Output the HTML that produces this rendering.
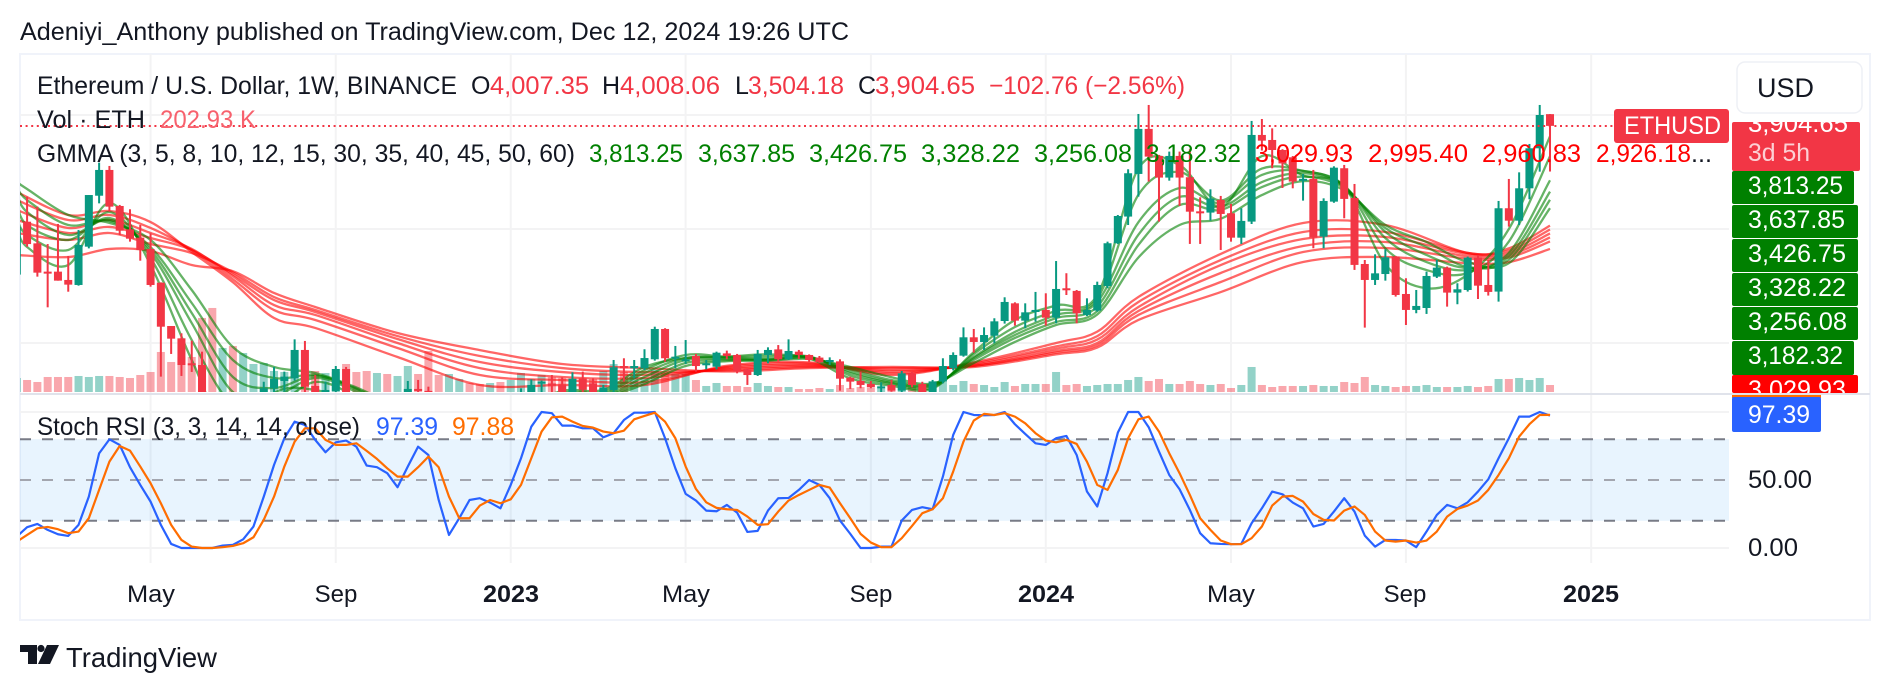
<!DOCTYPE html>
<html lang="en">
<head>
<meta charset="utf-8">
<title>ETHUSD weekly chart</title>
<style>
html,body{margin:0;padding:0;background:#fff;}
svg{display:block;}
text{font-family:"Liberation Sans",sans-serif;font-size:25px;fill:#131722;}
.r{fill:#f23645;}
.g{fill:#008000;}
.rr{fill:#ff0000;}
.w{fill:#ffffff;}
.axis-x{text-anchor:middle;font-size:24px;}
</style>
</head>
<body>
<svg id="chart" xmlns="http://www.w3.org/2000/svg" width="1888" height="690" viewBox="0 0 1888 690">
<defs>
<clipPath id="main-clip"><rect x="20" y="54" width="1709" height="338"/></clipPath>
<clipPath id="stoch-clip"><rect x="20" y="396" width="1709" height="167"/></clipPath>
<clipPath id="top-label-clip"><rect x="1732" y="122" width="128" height="49"/></clipPath>
<clipPath id="bottom-label-clip"><rect x="1732" y="375" width="128" height="18"/></clipPath>
</defs>
<rect x="0" y="0" width="1888" height="690" fill="#ffffff"/>
<rect x="20" y="54" width="1850" height="566" fill="none" stroke="#f0f3fa" stroke-width="2"/>
<g id="grid"></g>
<g id="stoch-band"></g>
<g id="main-marks" clip-path="url(#main-clip)"></g>
<line x1="20" x2="1614" y1="126" y2="126" stroke="#f23645" stroke-width="2" stroke-dasharray="2 3.6"/>
<rect x="20" y="393" width="1850" height="2" fill="#e0e3eb"/>
<g id="stoch-marks" clip-path="url(#stoch-clip)"></g>

<text x="20" y="40" textLength="829" lengthAdjust="spacingAndGlyphs">Adeniyi_Anthony published on TradingView.com, Dec 12, 2024 19:26 UTC</text>

<text x="37" y="94" textLength="420" lengthAdjust="spacingAndGlyphs">Ethereum / U.S. Dollar, 1W, BINANCE</text>
<text x="471" y="94">O</text>
<text class="r" x="490" y="94" textLength="99" lengthAdjust="spacingAndGlyphs">4,007.35</text>
<text x="602" y="94">H</text>
<text class="r" x="620" y="94" textLength="100" lengthAdjust="spacingAndGlyphs">4,008.06</text>
<text x="735" y="94">L</text>
<text class="r" x="748" y="94" textLength="96" lengthAdjust="spacingAndGlyphs">3,504.18</text>
<text x="858" y="94">C</text>
<text class="r" x="875" y="94" textLength="100" lengthAdjust="spacingAndGlyphs">3,904.65</text>
<text class="r" x="989" y="94" textLength="196" lengthAdjust="spacingAndGlyphs">−102.76 (−2.56%)</text>

<text x="37" y="128" textLength="108" lengthAdjust="spacingAndGlyphs">Vol · ETH</text>
<text x="160" y="128" textLength="96" lengthAdjust="spacingAndGlyphs" style="fill:#f7616d">202.93 K</text>

<text x="37" y="162" textLength="538" lengthAdjust="spacingAndGlyphs">GMMA (3, 5, 8, 10, 12, 15, 30, 35, 40, 45, 50, 60)</text>
<text class="g" x="589" y="162" textLength="94" lengthAdjust="spacingAndGlyphs">3,813.25</text>
<text class="g" x="698" y="162" textLength="97" lengthAdjust="spacingAndGlyphs">3,637.85</text>
<text class="g" x="809" y="162" textLength="98" lengthAdjust="spacingAndGlyphs">3,426.75</text>
<text class="g" x="921" y="162" textLength="99" lengthAdjust="spacingAndGlyphs">3,328.22</text>
<text class="g" x="1034" y="162" textLength="98" lengthAdjust="spacingAndGlyphs">3,256.08</text>
<text class="g" x="1146" y="162" textLength="95" lengthAdjust="spacingAndGlyphs">3,182.32</text>
<text class="rr" x="1255" y="162" textLength="98" lengthAdjust="spacingAndGlyphs">3,029.93</text>
<text class="rr" x="1368" y="162" textLength="100" lengthAdjust="spacingAndGlyphs">2,995.40</text>
<text class="rr" x="1482" y="162" textLength="99" lengthAdjust="spacingAndGlyphs">2,960.83</text>
<text class="rr" x="1596" y="162" textLength="95" lengthAdjust="spacingAndGlyphs">2,926.18</text>
<text x="1691" y="162" textLength="21" lengthAdjust="spacingAndGlyphs">...</text>

<text x="37" y="435" textLength="323" lengthAdjust="spacingAndGlyphs">Stoch RSI (3, 3, 14, 14, close)</text>
<text x="376" y="435" textLength="62" lengthAdjust="spacingAndGlyphs" style="fill:#2962ff">97.39</text>
<text x="452" y="435" textLength="62" lengthAdjust="spacingAndGlyphs" style="fill:#ff6d00">97.88</text>

<text class="axis-x" x="151" y="602" textLength="48" lengthAdjust="spacingAndGlyphs">May</text>
<text class="axis-x" x="336" y="602">Sep</text>
<text class="axis-x" x="511" y="602" textLength="56" lengthAdjust="spacingAndGlyphs" style="font-weight:700">2023</text>
<text class="axis-x" x="686" y="602" textLength="48" lengthAdjust="spacingAndGlyphs">May</text>
<text class="axis-x" x="871" y="602">Sep</text>
<text class="axis-x" x="1046" y="602" textLength="56" lengthAdjust="spacingAndGlyphs" style="font-weight:700">2024</text>
<text class="axis-x" x="1231" y="602" textLength="48" lengthAdjust="spacingAndGlyphs">May</text>
<text class="axis-x" x="1405" y="602">Sep</text>
<text class="axis-x" x="1591" y="602" textLength="56" lengthAdjust="spacingAndGlyphs" style="font-weight:700">2025</text>

<rect x="1737" y="62" width="125" height="51" rx="8" fill="#ffffff" stroke="#eef0f5" stroke-width="1.5"/>
<text x="1757" y="97" textLength="57" lengthAdjust="spacingAndGlyphs" style="font-size:27px">USD</text>

<rect x="1614" y="109" width="115" height="34" rx="3" fill="#f23645"/>
<text class="w" x="1624" y="134" textLength="97" lengthAdjust="spacingAndGlyphs">ETHUSD</text>

<rect x="1732" y="122" width="128" height="49" rx="2" fill="#f23645"/>
<text class="w" x="1748" y="132" textLength="100" lengthAdjust="spacingAndGlyphs" clip-path="url(#top-label-clip)">3,904.65</text>
<text x="1748" y="161" textLength="62" lengthAdjust="spacingAndGlyphs" style="fill:#fcd0d4">3d 5h</text>

<rect x="1732" y="171" width="122" height="33" rx="2" fill="#008000"/>
<text class="w" x="1748" y="194" textLength="95" lengthAdjust="spacingAndGlyphs">3,813.25</text>
<rect x="1732" y="205" width="126" height="33" rx="2" fill="#008000"/>
<text class="w" x="1748" y="228" textLength="97" lengthAdjust="spacingAndGlyphs">3,637.85</text>
<rect x="1732" y="239" width="126" height="33" rx="2" fill="#008000"/>
<text class="w" x="1748" y="262" textLength="98" lengthAdjust="spacingAndGlyphs">3,426.75</text>
<rect x="1732" y="273" width="126" height="33" rx="2" fill="#008000"/>
<text class="w" x="1748" y="296" textLength="98" lengthAdjust="spacingAndGlyphs">3,328.22</text>
<rect x="1732" y="307" width="126" height="33" rx="2" fill="#008000"/>
<text class="w" x="1748" y="330" textLength="99" lengthAdjust="spacingAndGlyphs">3,256.08</text>
<rect x="1732" y="341" width="122" height="34" rx="2" fill="#008000"/>
<text class="w" x="1748" y="364" textLength="95" lengthAdjust="spacingAndGlyphs">3,182.32</text>
<rect x="1732" y="375" width="126" height="18" rx="2" fill="#ff0000"/>
<text class="w" x="1748" y="398" textLength="98" lengthAdjust="spacingAndGlyphs" clip-path="url(#bottom-label-clip)">3,029.93</text>

<rect x="1732" y="395" width="89" height="3" fill="#ff6d00"/>
<rect x="1732" y="397" width="89" height="35" rx="2" fill="#2962ff"/>
<text class="w" x="1748" y="423" textLength="62" lengthAdjust="spacingAndGlyphs">97.39</text>
<text x="1748" y="488" textLength="64" lengthAdjust="spacingAndGlyphs">50.00</text>
<text x="1748" y="556" textLength="50" lengthAdjust="spacingAndGlyphs">0.00</text>

<g>
<path d="M20 645H37V664H28V652H20Z" fill="#131722"/>
<circle cx="41" cy="648.5" r="3.6" fill="#131722"/>
<path d="M47 645H59L50 664H38Z" fill="#131722"/>
<text x="66" y="667" textLength="151" lengthAdjust="spacingAndGlyphs" style="font-size:28px">TradingView</text>
</g>
</svg>

<script>
// Weekly candles, Jan 31 2022 onward (bar index 0).
const opens = [2600,3064,2874,2626,2626,2553,2509,2845,3292,3518,3202,2997,2924,2825,2529,2149,2041,1822,1807,1450,1125,1140,1070,1215,1340,1603,1667,1690,1939,1623,1490,1578,1772,1470,1315,1290,1300,1275,1300,1597,1580,1255,1215,1205,1280,1260,1185,1218,1200,1320,1552,1646,1645,1632,1505,1684,1646,1560,1588,1798,1778,1778,1857,2123,1866,1845,1886,1807,1792,1909,1895,1769,1719,1895,1944,1857,1924,1895,1872,1834,1839,1696,1667,1641,1611,1632,1582,1734,1641,1565,1661,1778,1889,2050,2009,2064,2193,2348,2196,2272,2290,2222,2480,2457,2246,2284,2500,2875,3109,3483,3878,3641,3451,3641,3454,3155,3144,3255,3138,2924,3065,3825,3781,3693,3629,3428,3439,2933,3240,3533,3272,2693,2553,2605,2758,2430,2290,2307,2582,2661,2442,2465,2749,2509,2451,3182,3073,3357,3708,4007.35];
const highs = [3050,3284,3196,2868,3044,2763,2991,3298,3582,3553,3211,3173,3035,2962,2532,2149,2085,2020,1924,1530,1290,1280,1290,1460,1660,1790,1749,2032,2018,1719,1661,1798,1790,1500,1400,1360,1340,1310,1667,1676,1617,1280,1240,1310,1300,1350,1270,1240,1320,1602,1681,1670,1719,1699,1743,1749,1690,1632,1851,1866,1851,1945,2143,2130,1974,2026,1904,1851,1924,1933,1904,1778,1939,1962,1982,2032,1939,1900,1886,1874,1857,1705,1749,1667,1655,1676,1755,1749,1660,1676,1866,1918,2137,2123,2137,2217,2401,2357,2348,2448,2436,2719,2612,2465,2392,2538,2889,3123,3524,4009,4088,3650,3679,3679,3699,3278,3348,3290,3220,3182,3948,3965,3883,3700,3640,3483,3518,3269,3550,3562,3395,2728,2778,2822,2764,2568,2465,2626,2728,2670,2524,2758,2772,2728,3246,3439,3497,3746,4088,4008.06];
const lows = [2580,2845,2582,2313,2547,2450,2503,2830,3225,3152,2947,2889,2722,2494,1705,1904,1711,1746,1420,880,1040,1000,1050,1010,1330,1555,1573,1670,1559,1420,1420,1500,1450,1260,1220,1270,1260,1190,1270,1500,1075,1170,1080,1190,1215,1165,1150,1180,1190,1300,1510,1559,1559,1500,1460,1565,1370,1370,1555,1661,1690,1763,1845,1836,1778,1816,1749,1769,1769,1857,1734,1632,1711,1822,1836,1851,1860,1834,1822,1807,1582,1597,1603,1603,1559,1573,1567,1611,1540,1520,1646,1760,1880,1915,1939,1997,2170,2152,2129,2187,2152,2173,2421,2173,2237,2275,2480,2869,3035,3284,3416,3065,3424,3202,2869,2869,3073,2816,2889,2869,3044,3688,3533,3360,3357,3249,2831,2831,3230,3094,2641,2135,2509,2547,2407,2158,2261,2255,2570,2319,2340,2451,2386,2416,2363,3021,3035,3261,3503,3504.18];
const closes = [3018,2868,2617,2617,2547,2512,2860,3298,3518,3196,2985,2915,2816,2509,2143,2038,1807,1816,1450,1125,1140,1070,1215,1340,1603,1685,1705,1939,1617,1490,1588,1772,1470,1315,1310,1300,1275,1300,1597,1582,1255,1215,1218,1280,1260,1185,1218,1200,1320,1550,1632,1661,1630,1505,1684,1590,1565,1608,1787,1778,1798,1868,2123,1866,1880,1857,1798,1822,1915,1886,1749,1719,1904,1939,1857,1930,1895,1851,1831,1851,1687,1661,1632,1611,1620,1582,1734,1632,1553,1661,1798,1895,2050,2009,2070,2190,2360,2196,2269,2290,2222,2474,2465,2261,2290,2509,2875,3114,3489,3878,3635,3451,3641,3451,3152,3144,3267,3132,2924,3071,3825,3775,3693,3575,3416,3440,2924,3246,3538,3264,2685,2553,2611,2752,2421,2290,2325,2588,2661,2442,2471,2749,2503,2448,3182,3073,3357,3708,4000,3904.65];
// Volume per bar, in thousands of ETH.
const volumes = [406,348,290,435,435,435,464,435,464,464,435,406,493,580,1160,870,1015,1015,2146,2436,1276,1334,1131,812,841,609,580,725,580,609,551,580,812,580,609,551,522,464,754,522,1189,493,522,377,261,232,261,290,348,551,377,493,435,406,406,406,377,609,812,580,493,406,638,551,522,522,348,174,261,174,174,145,261,174,145,145,87,87,116,87,203,116,145,116,116,174,145,145,174,319,290,203,319,232,203,145,290,174,232,232,232,580,203,232,174,203,232,232,348,435,319,377,232,232,319,232,203,232,116,203,725,203,145,174,174,174,203,174,174,290,261,435,203,174,145,174,174,203,145,145,145,174,145,174,377,377,406,348,406,202.93];

// GMMA fast group: values read at these bar indexes.
const gmmaFastBars = [0,1,5,9,13,17,21,25,29,33,37,41,45,49,53,57,61,65,69,73,77,81,85,89,93,97,101,105,109,113,117,121,125,129,133,137,141,145,149];
const ema3 = [3018,2842,2684,3228,2684,1851,1149,1561,1588,1460,1295,1300,1210,1420,1580,1590,1790,1868,1880,1900,1865,1690,1625,1600,1920,2202,2330,2420,3530,3560,3195,3640,3470,3370,2690,2480,2600,3000,3813.25];
const ema5 = [3105,2947,2816,3149,2746,2026,1456,1456,1658,1530,1320,1330,1225,1350,1560,1570,1763,1895,1880,1880,1880,1715,1640,1610,1903,2140,2282,2390,3300,3500,3250,3530,3510,3380,2830,2640,2614,2890,3637.85];
const ema8 = [3228,3035,2904,3096,2789,2175,1570,1535,1693,1570,1370,1370,1240,1300,1520,1550,1737,1868,1870,1860,1880,1735,1650,1625,1877,2097,2246,2360,3060,3360,3228,3474,3510,3380,2920,2710,2640,2790,3426.75];
const ema10 = [3316,3149,2947,3079,2816,2263,1702,1605,1711,1590,1400,1380,1250,1280,1480,1530,1702,1851,1860,1855,1875,1750,1660,1630,1868,2070,2219,2320,2950,3281,3193,3412,3490,3370,2975,2772,2658,2760,3328.22];
const ema12 = [3368,3254,3035,3070,2842,2351,1851,1693,1720,1600,1420,1390,1260,1270,1450,1520,1667,1825,1850,1850,1870,1770,1675,1640,1851,2044,2184,2280,2860,3210,3167,3368,3460,3360,3008,2842,2667,2730,3256.08];
const ema15 = [3412,3351,3123,3053,2904,2465,1965,1790,1737,1610,1450,1400,1280,1265,1420,1510,1640,1798,1840,1845,1860,1790,1700,1645,1825,2009,2158,2250,2750,3035,3090,3298,3420,3340,3035,2886,2710,2700,3182.32];

// GMMA slow group: values read at these bar indexes.
const gmmaSlowBars = [0,5,9,13,17,21,25,29,37,45,53,61,69,77,85,93,101,105,109,117,125,133,141,145,149];
const ema30 = [3325,3123,3158,3061,2798,2533,2219,2132,1877,1632,1632,1632,1800,1830,1720,1830,2000,2100,2404,2781,3053,3035,2790,2830,3029.93];
const ema35 = [3254,3079,3123,3009,2816,2559,2289,2202,1956,1719,1675,1658,1790,1820,1735,1820,1970,2060,2360,2728,2974,2974,2790,2810,2995.40];
const ema40 = [3167,3009,3079,2965,2825,2586,2333,2246,2000,1780,1702,1693,1780,1810,1750,1810,1950,2030,2316,2684,2912,2930,2780,2790,2960.83];
const ema45 = [3079,2965,3018,2921,2816,2603,2377,2272,2035,1833,1745,1720,1770,1800,1765,1800,1930,2000,2281,2614,2851,2886,2760,2770,2926.18];
const ema50 = [2965,2904,2965,2868,2789,2621,2403,2290,2061,1886,1780,1745,1760,1790,1780,1800,1915,1980,2246,2535,2798,2833,2740,2750,2891];
const ema60 = [2772,2754,2825,2807,2684,2630,2439,2316,2088,1938,1816,1780,1750,1780,1790,1790,1900,1960,2202,2447,2710,2754,2700,2710,2825];

// Stochastic RSI, one value per bar.
const stochK = [8.4,15.3,17.7,13.3,10.1,8.9,17,37.8,69.6,79.9,75.8,59.4,46.4,34.1,17,3,0,0,0,0,1.8,2.3,6.4,15.8,37.8,61.1,80.7,92.9,90.5,79.5,70.4,77.7,79,74.5,60.6,59.4,55,44.7,59.9,74.5,68.4,35.3,9.6,21.9,35.3,36.6,33.4,29.2,46.4,66,89.2,100,99.1,90,90,88,88,81.4,84.4,94.1,99.5,99.5,100,80.7,58.6,39.8,34.9,27.5,27,31.7,26,11.8,12.6,27.5,36.6,36.8,42.7,50,46.4,36.6,20.2,10.4,0,0,1,1,20.2,28,30,28.5,52.5,83.1,100,97.8,97.6,97.8,100,91,83.9,77,75.8,80.7,82.4,68.4,41.5,30.5,55,84.8,100,100,88.8,70.9,53.7,43.2,28,10.9,3.5,3,2.8,3,18.2,29.2,41.5,39.5,33.4,29.2,15.8,17.7,26.8,36.6,26.8,9.1,1,5.9,5.9,5.5,0.6,12.1,24.3,31.7,29.2,33.6,41.5,50.5,66,80.7,96.6,96.6,100,97.39];
const stochD = [4.7,9.6,14.5,15.5,13.8,10.9,12.1,21.9,42.7,63.5,75,71.6,59.9,47.6,32.9,17,5.9,1,0,0,0.6,1.5,3.5,7.9,20.7,37.8,59.9,78.2,88,88,79.5,75.8,75.8,77,71.4,65.5,58.6,52.5,52.5,59.4,67.2,59.4,37.8,21.9,21.9,31.2,35.3,32.9,35.8,46.4,66,85.6,96.1,96.6,92.9,89.7,88.5,85.6,84.4,86.3,94.6,97.1,99.5,92.9,80.7,59.9,43.4,33.6,29.5,28.5,28,23.1,17,17.5,26.8,34.9,39,42.7,46.4,44.4,32.9,21.9,10.4,4,0.6,0.6,7.2,16.2,25.6,28.5,36.6,56.2,78.2,93.7,98.6,97.8,99.1,96.6,91.7,84.4,79,77.7,79.5,76.5,63.5,46.4,42.7,57.4,80.7,94.6,96.6,85.6,69.6,55,39,21.9,13.3,5.5,2.8,2.8,7.2,15.8,31.2,37.8,38.3,34.1,25,20.7,20.2,27.5,30.5,24.3,12.1,5.5,4.7,5.5,4,5.5,12.1,23.1,28.7,31.2,34.9,42.7,53.7,66,81.9,91,97.8,97.88];

// Axis tick values.
const priceGridTicks = [4000,3000,2000];
const stochGridTicks = [100,0];
const stochBandTicks = [80,50,20];
const timeTickBars = [13,31,48,65,83,100,118,135,153];

const NS = 'http://www.w3.org/2000/svg';
function barX(i){ return 16.8 + 10.29 * i; }
function priceY(p){ return 115 + (4000 - p) * 0.114; }
function volumeY(v){ return 392 - v * 0.0345; }
function stochY(v){ return 548 - v * 1.36; }
function make(tag, attrs, parent){
  const el = document.createElementNS(NS, tag);
  for (const key in attrs) el.setAttribute(key, attrs[key]);
  parent.appendChild(el);
  return el;
}
function linePoints(bars, values, yFn){
  return bars.map(function(b, i){ return barX(b).toFixed(2) + ',' + yFn(values[i]).toFixed(2); }).join(' ');
}
function curvePath(bars, values, yFn){
  const pts = bars.map(function(b, i){ return [barX(b), yFn(values[i])]; });
  let d = 'M' + pts[0][0].toFixed(2) + ' ' + pts[0][1].toFixed(2);
  for (let i = 0; i < pts.length - 1; i++) {
    const p0 = pts[Math.max(i - 1, 0)];
    const p1 = pts[i];
    const p2 = pts[i + 1];
    const p3 = pts[Math.min(i + 2, pts.length - 1)];
    const c1x = p1[0] + (p2[0] - p0[0]) / 6;
    const c1y = p1[1] + (p2[1] - p0[1]) / 6;
    const c2x = p2[0] - (p3[0] - p1[0]) / 6;
    const c2y = p2[1] - (p3[1] - p1[1]) / 6;
    d += 'C' + c1x.toFixed(2) + ' ' + c1y.toFixed(2) + ' ' + c2x.toFixed(2) + ' ' + c2y.toFixed(2) + ' ' + p2[0].toFixed(2) + ' ' + p2[1].toFixed(2);
  }
  return d;
}

const grid = document.getElementById('grid');
const band = document.getElementById('stoch-band');
const mainMarks = document.getElementById('main-marks');
const stochMarks = document.getElementById('stoch-marks');

priceGridTicks.forEach(function(t){
  const el = make('line', {x1:20, x2:1729, y1:priceY(t), y2:priceY(t), stroke:'#f3f3f4', 'stroke-width':2}, grid);
  
  
});
stochGridTicks.forEach(function(t){
  const el = make('line', {x1:20, x2:1729, y1:stochY(t), y2:stochY(t), stroke:'#f3f3f4', 'stroke-width':2}, grid);
  
  
});
timeTickBars.forEach(function(b){
  const el = make('line', {x1:barX(b), x2:barX(b), y1:54, y2:563, stroke:'#f3f3f4', 'stroke-width':2}, grid);
  
  
});

const bandFill = make('rect', {x:20, width:1709, y:stochY(stochBandTicks[0]), height:stochY(stochBandTicks[2]) - stochY(stochBandTicks[0]), fill:'#2196f3', 'fill-opacity':0.1}, band);


stochBandTicks.forEach(function(t){
  const el = make('line', {x1:20, x2:1729, y1:stochY(t), y2:stochY(t), stroke:t === 50 ? '#a3a6af' : '#787b86', 'stroke-width':2, 'stroke-dasharray':'11 11'}, band);
  
  
});

volumes.forEach(function(v, i){
  const up = closes[i] >= opens[i];
  const el = make('rect', {x:barX(i) - 4, width:8, y:volumeY(v), height:392 - volumeY(v), fill:up ? '#089981' : '#f23645', 'fill-opacity':0.44}, mainMarks);
  
  
});

[ema30, ema35, ema40, ema45, ema50, ema60].forEach(function(series){
  const el = make('path', {d:curvePath(gmmaSlowBars, series, priceY), fill:'none', stroke:'#ff0000', 'stroke-opacity':0.6, 'stroke-width':2.3, 'stroke-linejoin':'round'}, mainMarks);
  
  
});
[ema3, ema5, ema8, ema10, ema12, ema15].forEach(function(series){
  const el = make('path', {d:curvePath(gmmaFastBars, series, priceY), fill:'none', stroke:'#008000', 'stroke-opacity':0.6, 'stroke-width':2.3, 'stroke-linejoin':'round'}, mainMarks);
  
  
});

opens.forEach(function(o, i){
  const c = closes[i];
  const color = c >= o ? '#089981' : '#f23645';
  const top = priceY(Math.max(o, c));
  const bottom = priceY(Math.min(o, c));
  const wick = make('rect', {x:barX(i) - 1, width:2, y:priceY(highs[i]), height:priceY(lows[i]) - priceY(highs[i]), fill:color}, mainMarks);
  
  
  const body = make('rect', {x:barX(i) - 4, width:8, y:top, height:Math.max(bottom - top, 2), fill:color}, mainMarks);
  
  
});

const stochBars = stochK.map(function(_, i){ return i; });
const kLine = make('polyline', {points:linePoints(stochBars, stochK, stochY), fill:'none', stroke:'#2962ff', 'stroke-width':2.2, 'stroke-linejoin':'round'}, stochMarks);


const dLine = make('polyline', {points:linePoints(stochBars, stochD, stochY), fill:'none', stroke:'#ff6d00', 'stroke-width':2.2, 'stroke-linejoin':'round'}, stochMarks);


</script>
</body>
</html>
